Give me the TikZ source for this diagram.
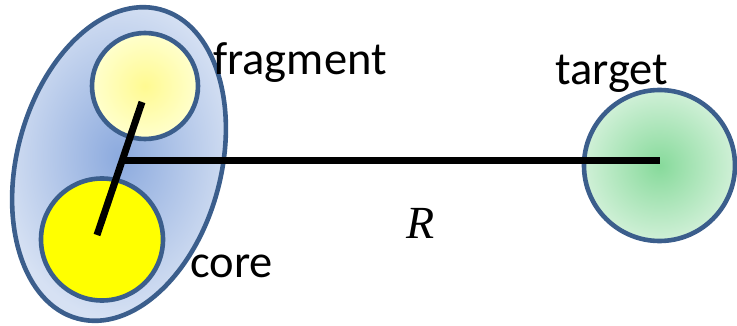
\documentclass[tikz,border=0pt]{standalone}
\usepackage{fontspec}
\setmainfont{Carlito}
\newfontfamily\rfont{Liberation Serif}
\usetikzlibrary{shapes.geometric}
\definecolor{rim}{RGB}{59,94,140}
\definecolor{blueIn}{RGB}{140,170,222}
\definecolor{blueOut}{RGB}{214,225,243}
\definecolor{fragIn}{RGB}{255,250,145}
\definecolor{fragOut}{RGB}{255,255,205}
\definecolor{coreFill}{RGB}{255,255,0}
\definecolor{greenIn}{RGB}{135,218,155}
\definecolor{greenOut}{RGB}{208,240,215}
\tikzset{
  ball/.style={circle, draw=rim, line width=4.6pt, inner sep=0pt},
  bond/.style={line width=7pt, black},
  lbl/.style={font=\fontsize{46.5}{54}\selectfont, inner sep=0pt, anchor=base west}
}
\begin{document}
\begin{tikzpicture}[x=1pt,y=1pt]
\useasboundingbox (0,0) rectangle (737,-326);
% molecule envelope
\node[ellipse, draw=rim, line width=4.6pt, minimum width=204pt, minimum height=320pt,
      inner sep=0pt, rotate=-15, shading=radial, inner color=blueIn, outer color=blueOut]
      (mol) at (119,-164) {};
% fragment
\node[ball, minimum size=106pt, shading=radial, inner color=fragIn, outer color=fragOut]
      (frag) at (145,-86) {};
% core
\node[ball, minimum size=122pt, fill=coreFill] (core) at (102,-239.5) {};
% target
\node[ball, minimum size=151pt, shading=radial, inner color=greenIn, outer color=greenOut]
      (target) at (659.5,-165.5) {};
% bonds
\coordinate (fend) at (142,-102);
\coordinate (cend) at (97,-235);
\coordinate (mid) at (123,-160.5);
\coordinate (tend) at (660,-160.5);
\draw[bond] (fend) -- (cend);
\draw[bond] (mid) -- (tend);
% labels
\node[lbl] (lfrag) at (213,-75) {fragment};
\node[lbl] (lcore) at (190,-277) {core};
\node[lbl] (ltarget) at (555,-85) {target};
\node[lbl, font=\fontsize{46}{54}\selectfont\rfont\itshape] (lR) at (406,-239) {R};
\end{tikzpicture}
\end{document}
